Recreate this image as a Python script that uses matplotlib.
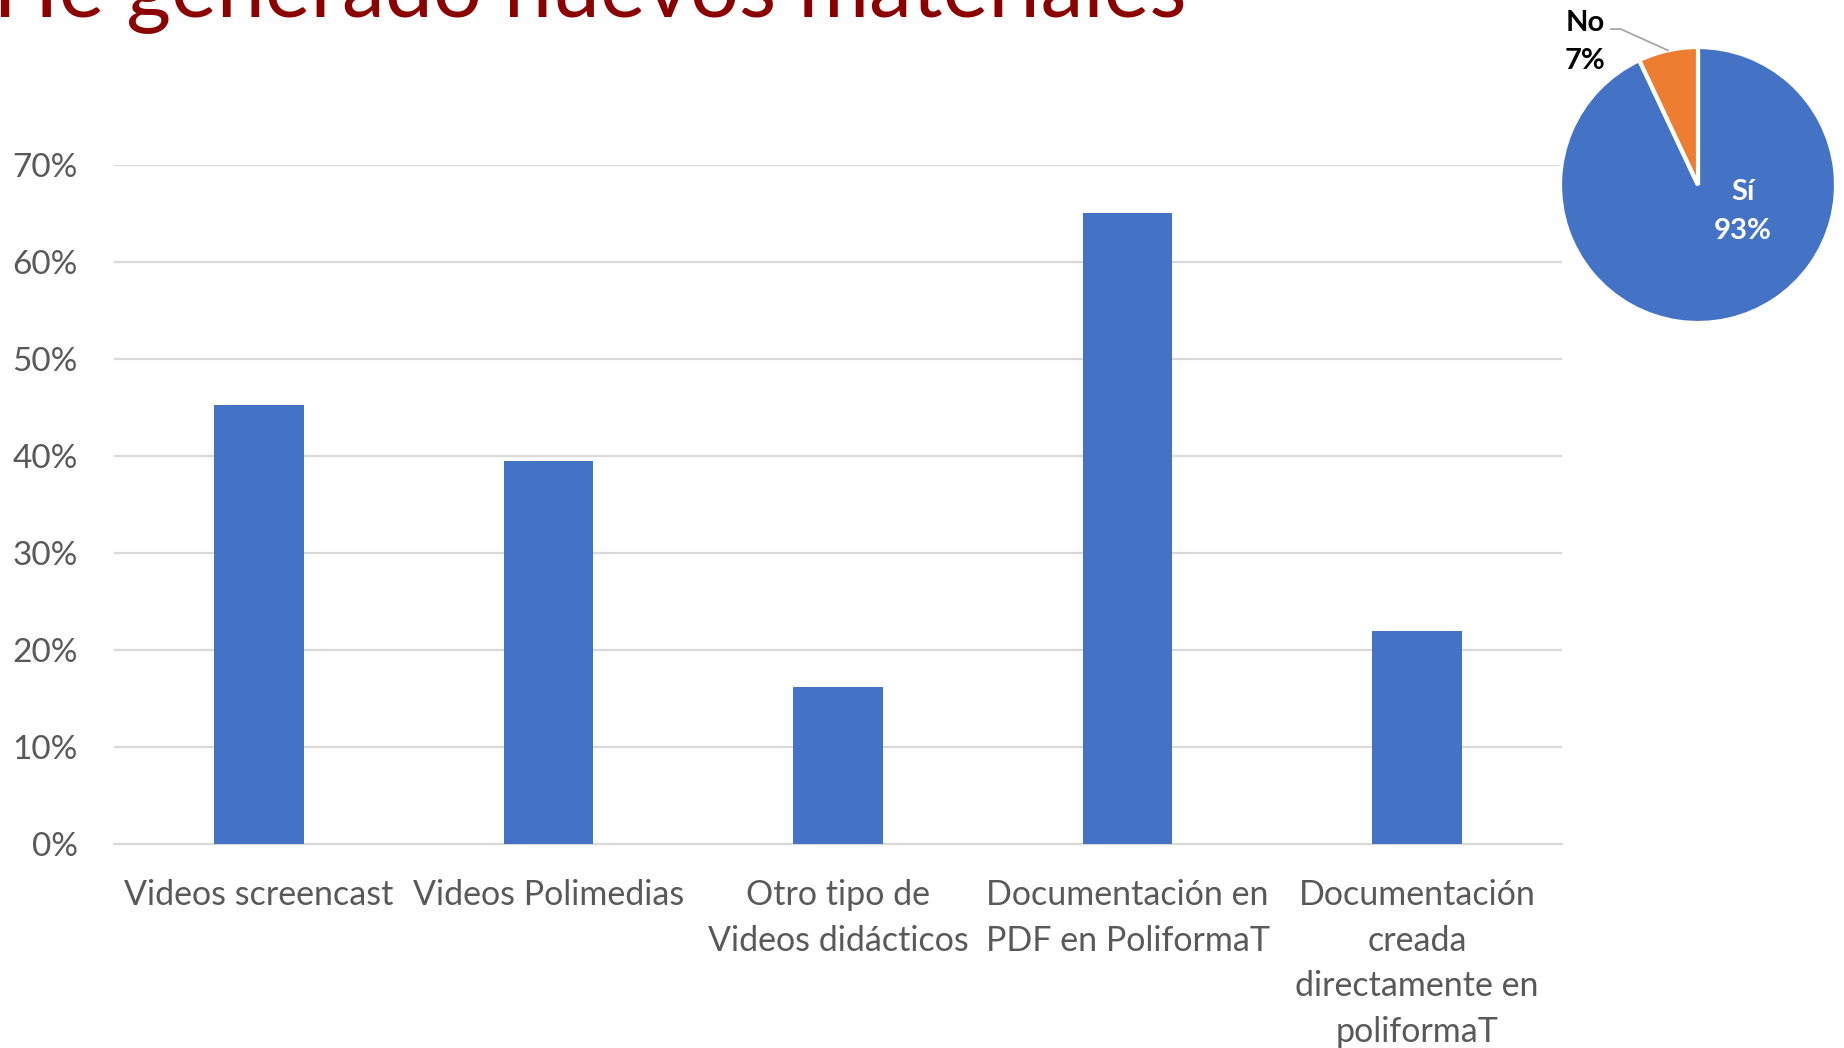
import numpy as np
import matplotlib
matplotlib.use("Agg")
import matplotlib.pyplot as plt
from matplotlib.ticker import PercentFormatter

plt.rcParams['font.family'] = ['Lato', 'DejaVu Sans']

# ---- data ----
title = "He generado nuevos materiales"
categories = ["Videos screencast", "Videos Polimedias", "Otro tipo de\nVideos didácticos",
              "Documentación en\nPDF en PoliformaT",
              "Documentación\ncreada\ndirectamente en\npoliformaT"]
values = [0.453, 0.395, 0.162, 0.650, 0.220]
yticks = [0.0, 0.1, 0.2, 0.3, 0.4, 0.5, 0.6, 0.7]

pie_labels = ["Sí", "No"]
pie_values = [0.93, 0.07]
pie_colors = ["#4472C4", "#ED7D31"]

BAR = "#4472C4"
GRID = "#D9D9D9"
TXT = "#595959"

W, H = 1844, 1048
fig = plt.figure(figsize=(W / 100, H / 100), dpi=100)

# ---- bar chart ----
ax = fig.add_axes([114 / W, (H - 844) / H, (1562 - 114) / W, (844 - 165) / H])
x = np.arange(len(categories))
ax.bar(x, values, width=0.31, color=BAR, zorder=3)
ax.set_xlim(-0.5, len(categories) - 0.5)
ax.set_ylim(0, 0.7)
ax.set_yticks(yticks)
ax.yaxis.set_major_formatter(PercentFormatter(1.0, decimals=0))
ax.yaxis.grid(True, color=GRID, linewidth=1.6, zorder=0)
for s in ["top", "right", "left"]:
    ax.spines[s].set_visible(False)
ax.spines["bottom"].set_color(GRID)
ax.spines["bottom"].set_linewidth(1.6)
ax.tick_params(axis="y", length=0, pad=26, labelsize=24, labelcolor=TXT)
ax.tick_params(axis="x", length=0, pad=25, labelsize=24.5, labelcolor=TXT)
ax.set_xticks(x)
ax.set_xticklabels(categories, linespacing=1.53)

# ---- title ----
fig.text(-0.004, 1 - 16 / H, title, color="#8B0000", fontsize=62,
         ha="left", va="baseline")

# ---- pie ----
cx, cy, r = 1698, 185, 138
pax = fig.add_axes([(cx - r) / W, (H - cy - r) / H, 2 * r / W, 2 * r / H])
wedges, _ = pax.pie(pie_values, colors=pie_colors, startangle=90, counterclock=False,
                    wedgeprops=dict(edgecolor="white", linewidth=3))
pax.set_xlim(-1, 1)
pax.set_ylim(-1, 1)
pax.set_aspect("equal")

pax.text(0.325, -0.19, f"{pie_labels[0]}\n{pie_values[0]:.0%}", color="white",
         fontsize=21, fontweight="bold", ha="center", va="center", linespacing=1.6)
pax.text(-0.82, 1.035, f"{pie_labels[1]}\n{pie_values[1]:.0%}", color="black",
         fontsize=21, fontweight="bold", ha="center", va="center", linespacing=1.6,
         clip_on=False)
# leader line to middle of the "No" wedge
w = wedges[1]
mid = np.deg2rad((w.theta1 + w.theta2) / 2)
ex, ey = np.cos(mid), np.sin(mid)
pax.plot([-0.63, -0.56, ex], [1.13, 1.13, ey], color="#A6A6A6", linewidth=1.3,
         clip_on=False)

fig.savefig("out.png", dpi=100)
